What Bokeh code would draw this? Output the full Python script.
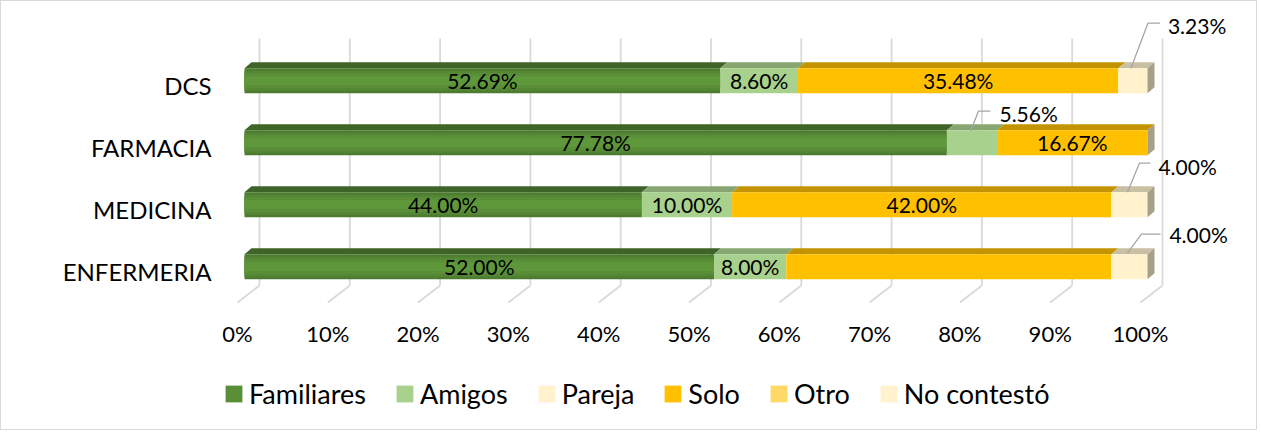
from bokeh.plotting import figure
from bokeh.models import Range1d, FixedTicker, Legend, LegendItem
from bokeh.core.properties import value
from bokeh.embed import file_html
from bokeh.resources import INLINE

# ---------------- data ----------------
categories = ["ENFERMERIA", "MEDICINA", "FARMACIA", "DCS"]   # bottom -> top
series_names = ["Familiares", "Amigos", "Pareja", "Solo", "Otro", "No contestó"]
familiares = [52.00, 44.00, 77.78, 52.69]
amigos = [8.00, 10.00, 5.56, 8.60]
pareja = [0.0, 0.0, 0.0, 0.0]
solo = [36.00, 42.00, 16.67, 35.48]
otro = [0.0, 0.0, 0.0, 0.0]
no_contesto = [4.00, 4.00, 0.0, 3.23]
x_ticks = [0, 10, 20, 30, 40, 50, 60, 70, 80, 90, 100]
x_tick_labels = ["0%", "10%", "20%", "30%", "40%", "50%", "60%", "70%", "80%", "90%", "100%"]

series_values = [familiares, amigos, pareja, solo, otro, no_contesto]

# ---------------- styles ----------------
FONT = "Lato"
front_colors = ["#5a8f37", "#a9d18e", "#fff2cc", "#ffc000", "#ffd966", "#fff2cc"]
top_colors = ["#3f6428", "#87a671", "#c9c0a3", "#c49400", "#c9ab50", "#c9c0a3"]
side_color = "#a7a088"
# nested gradient layers for the green front face (outer -> inner)
fam_layers = [("#4d7c30", 1.0), ("#548635", 0.8), ("#5a8f38", 0.6), ("#5f973b", 0.35)]
hidden_inside = {("ENFERMERIA", "Solo")}
# callouts: (start, elbow, end, text-left) offsets in px from segment centre / front-top
callouts = {
    ("DCS", "No contestó"): [(-2, 0), (15, -45), (27, -45), (35, -43)],
    ("FARMACIA", "Amigos"): [(-1.5, 1), (6.5, -19), (18.5, -19), (27.5, -17)],
    ("MEDICINA", "No contestó"): [(-2, 0), (10, -29), (21, -29), (29, -26)],
    ("ENFERMERIA", "No contestó"): [(-2, -1), (12, -20), (31, -20), (40, -20)],
}

# ---------------- geometry ----------------
OX, OY = 1, 1                      # page position of the canvas (1px border)
W, H = 1257, 430
FL = 222 - OX                      # frame left (canvas px)
X0, PX = 244 - OX, 9.03            # canvas x of 0 %, px per %
Y0, PY = 271 - OY, 62.0            # canvas y of first category, px per category
DXB, DYB = 7 / PX, 6 / PY
BAR_OFF, BAR_HALF = 4.8 / PY, 12.5 / PY
BACK_DX, FLOOR_DX = 15 / PX, -7 / PX
WALL_TOP, WALL_BOT, FLOOR_Y = 233 / PY, -14 / PY, -31 / PY
TICK_Y = (Y0 - (333 - OY)) / PY

p = figure(width=W, height=H,
           x_range=Range1d((FL - X0) / PX, (W - X0) / PX),
           y_range=Range1d((Y0 - H) / PY, Y0 / PY),
           min_border_left=FL, min_border_right=0,
           min_border_top=0, min_border_bottom=0,
           output_backend="svg", toolbar_location=None,
           styles={"border": "1px solid #d9d9d9"})
p.outline_line_color = None
p.xgrid.visible = False
p.ygrid.visible = False
p.xaxis.visible = False
p.background_fill_color = "white"
p.border_fill_color = "white"

# back wall + floor grid lines
p.segment(x0=[t + BACK_DX for t in x_ticks], y0=[WALL_BOT] * len(x_ticks),
          x1=[t + BACK_DX for t in x_ticks], y1=[WALL_TOP] * len(x_ticks),
          line_color="#d9d9d9", line_width=1.8)
p.segment(x0=[t + BACK_DX for t in x_ticks], y0=[WALL_BOT] * len(x_ticks),
          x1=[t + FLOOR_DX for t in x_ticks], y1=[FLOOR_Y] * len(x_ticks),
          line_color="#d9d9d9", line_width=1.8)

# x tick labels (at the front edge of the floor)
p.text(x=[t + FLOOR_DX for t in x_ticks], y=[TICK_Y] * len(x_ticks), text=x_tick_labels,
       text_align="center", text_baseline="middle",
       text_font=value(FONT), text_font_size="22px", text_color="#000000")

# bars
n = len(categories)
cum = [0.0] * n
front_renderers = []
label_x, label_y, label_t = [], [], []
co_xs, co_ys, co_tx, co_ty, co_t = [], [], [], [], []
for si, (name, vals) in enumerate(zip(series_names, series_values)):
    lefts = cum[:]
    rights = [l + v for l, v in zip(lefts, vals)]
    yc = [i + BAR_OFF for i in range(n)]
    tops = [c + BAR_HALF for c in yc]
    bots = [c - BAR_HALF for c in yc]
    p.patches(xs=[[l, r, r + DXB, l + DXB] for l, r in zip(lefts, rights)],
              ys=[[t, t, t + DYB, t + DYB] for t in tops],
              fill_color=top_colors[si], line_color=None)
    if si == 0:
        for k, (col, frac) in enumerate(fam_layers):
            rr = p.quad(left=lefts, right=rights,
                        bottom=[c - BAR_HALF * frac for c in yc],
                        top=[c + BAR_HALF * frac for c in yc],
                        fill_color=col, line_color=None)
            if k == 2:
                r = rr
    else:
        r = p.quad(left=lefts, right=rights, bottom=bots, top=tops,
                   fill_color=front_colors[si], line_color=None)
    front_renderers.append(r)
    for i in range(n):
        v = vals[i]
        if v <= 0:
            continue
        key = (categories[i], name)
        cx = (lefts[i] + rights[i]) / 2
        txt = f"{v:.2f}%"
        if key in callouts:
            (sx, sy), (ex, ey), (fx, fy), (tx, ty) = callouts[key]
            co_xs.append([cx + sx / PX, cx + ex / PX, cx + fx / PX])
            co_ys.append([tops[i] - sy / PY, tops[i] - ey / PY, tops[i] - fy / PY])
            co_tx.append(cx + tx / PX)
            co_ty.append(tops[i] - ty / PY)
            co_t.append(txt)
        elif key not in hidden_inside:
            label_x.append(cx); label_y.append(yc[i]); label_t.append(txt)
    cum = rights

# right side face at bar end
yc = [i + BAR_OFF for i in range(n)]
p.patches(xs=[[c, c + DXB, c + DXB, c] for c in cum],
          ys=[[y - BAR_HALF, y - BAR_HALF + DYB, y + BAR_HALF + DYB, y + BAR_HALF] for y in yc],
          fill_color=side_color, line_color=None)

# labels
p.text(x=label_x, y=label_y, text=label_t, text_align="center", text_baseline="middle",
       text_font=value(FONT), text_font_size="21px", text_color="#000000")
p.multi_line(xs=co_xs, ys=co_ys, line_color="#a6a6a6", line_width=1.3)
p.text(x=co_tx, y=co_ty, text=co_t, text_align="left", text_baseline="middle",
       text_font=value(FONT), text_font_size="21px", text_color="#000000")

# category axis
p.yaxis.ticker = FixedTicker(ticks=list(range(n)))
p.yaxis.major_label_overrides = {i: c for i, c in enumerate(categories)}
p.yaxis.axis_line_color = None
p.yaxis.major_tick_line_color = None
p.yaxis.minor_tick_line_color = None
p.yaxis.major_label_text_font = FONT
p.yaxis.major_label_text_color = "#000000"
p.yaxis.major_label_text_font_size = "24px"
p.yaxis.major_label_standoff = 5

items = []
for si, name in enumerate(series_names):
    items.append(LegendItem(label=name, renderers=[front_renderers[si]]))
legend = Legend(items=items, orientation="horizontal", location=(1, 21),
                padding=0, margin=0, spacing=28, glyph_width=21, glyph_height=21, label_standoff=5,
                label_text_font=FONT, label_text_font_size="27px", label_text_color="#000000",
                border_line_alpha=0, background_fill_alpha=0)
p.add_layout(legend)

open("out.html", "w").write(file_html(p, INLINE))
